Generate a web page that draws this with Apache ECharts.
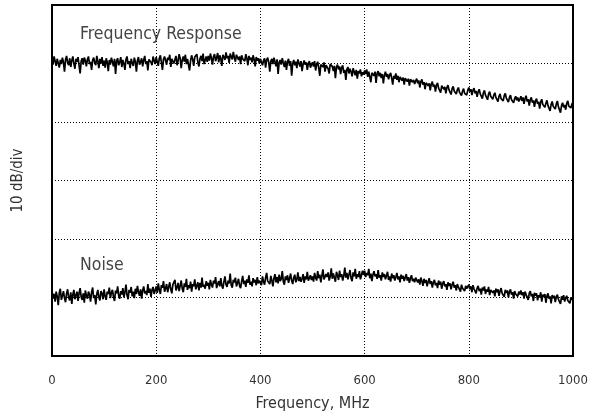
<!DOCTYPE html>
<html>
<head>
<meta charset="utf-8">
<script src="https://cdn.jsdelivr.net/npm/echarts@6/dist/echarts.min.js"></script>
<style>html,body{margin:0;padding:0;background:#fff}#c{width:592px;height:415px}</style>
</head>
<body>
<div id="c"></div>
<script>
// Sample grid step: 2 MHz (0..1000 MHz)
var stepMHz = 2;

var xTicks = [0, 200, 400, 600, 800, 1000];

// Frequency response trace (dB, 10 dB/div), 2 MHz steps
var freqResponse = [
 50.9,49.8,51.2,50.4,49.6,50.8,51.1,49.3,50.6,49.9,
 51.0,50.2,48.6,50.7,51.3,50.1,49.7,50.9,49.4,50.5,
 51.2,50.0,49.1,50.8,50.3,51.1,49.6,48.3,50.4,50.9,
 49.8,51.0,50.5,49.5,50.7,51.2,49.9,50.3,48.9,50.6,
 51.0,50.1,49.7,51.3,50.4,49.2,50.8,50.0,51.1,49.6,
 50.5,49.3,50.9,50.2,48.7,50.6,49.8,51.0,50.3,49.5,
 50.8,48.2,50.4,50.9,49.7,50.2,51.1,49.4,50.6,50.0,
 48.9,50.7,51.2,49.9,50.4,49.2,50.8,50.1,49.6,51.0,
 50.3,48.6,50.5,51.1,49.8,50.2,50.9,49.5,50.6,51.3,
 49.9,50.4,48.8,50.7,51.0,50.2,49.7,51.2,50.5,49.9,
 51.1,50.3,49.6,50.9,51.4,50.2,48.9,50.7,51.2,50.5,
 49.8,51.0,50.6,51.5,49.4,50.8,51.1,50.0,50.7,51.3,
 49.7,50.4,51.6,50.9,49.2,50.6,51.2,50.3,51.5,49.9,
 50.8,51.0,48.8,50.5,51.4,50.7,49.6,51.1,50.9,51.6,
 50.2,49.5,50.8,51.3,50.4,51.7,49.9,50.6,51.2,50.3,
 51.3,50.5,51.7,50.9,49.8,51.2,51.6,50.4,51.0,51.8,
 50.2,51.4,50.8,49.6,51.5,51.1,50.6,51.9,50.9,51.3,
 50.1,51.7,51.2,50.7,52.0,51.0,50.3,51.5,51.8,50.6,
 51.2,49.9,51.4,50.8,51.1,50.4,51.6,50.9,49.7,51.3,
 50.6,51.0,50.2,51.4,50.7,49.5,51.1,50.5,50.9,50.0,
 50.8,51.1,49.7,50.5,50.9,49.3,50.6,51.0,50.2,48.6,
 50.4,50.8,49.9,51.0,50.3,49.5,50.7,48.2,50.2,50.6,
 49.8,50.9,50.1,49.4,50.5,48.9,50.3,50.8,49.6,50.4,
 47.9,50.0,50.6,49.7,50.3,49.2,50.7,50.1,49.5,50.4,
 48.7,49.9,50.5,49.8,50.2,48.9,50.0,50.4,49.3,49.8,
 50.2,49.5,50.4,48.8,49.9,50.3,49.2,47.9,49.8,50.1,
 49.4,50.2,48.6,49.7,50.0,49.1,48.3,49.9,50.2,49.5,
 48.7,49.6,47.5,49.4,49.8,49.0,49.5,48.2,49.3,49.7,
 48.4,48.9,47.2,49.0,49.4,48.3,49.1,48.6,47.8,49.2,
 48.6,48.0,48.9,47.4,48.7,48.3,49.0,47.8,48.5,48.1,
 48.8,48.2,49.0,47.7,48.6,48.3,46.8,48.4,48.7,47.9,
 48.6,46.7,48.3,48.7,47.8,48.4,47.5,48.2,46.6,48.0,
 48.6,47.7,48.2,47.3,48.0,48.4,47.5,46.4,47.9,47.4,
 48.3,47.2,47.9,46.8,47.7,48.0,47.1,47.6,46.4,47.5,
 47.8,46.9,47.4,46.2,47.3,47.6,46.8,47.2,46.5,47.0,
 47.4,46.6,47.1,45.9,46.9,47.3,46.4,46.8,45.6,46.7,
 47.0,46.2,46.6,45.4,46.5,46.9,46.0,46.4,45.2,46.3,
 46.7,45.8,46.1,45.0,46.2,46.5,45.6,46.0,44.9,45.9,
 46.3,45.5,45.8,44.7,45.7,46.1,45.3,45.6,44.8,45.5,
 45.9,45.1,45.4,44.5,45.3,45.7,44.9,45.2,44.6,45.4,
 45.9,45.2,45.6,44.6,45.4,45.8,44.9,45.3,44.3,45.2,
 45.6,44.8,45.1,44.0,45.0,45.4,44.6,44.9,43.8,44.8,
 45.2,44.4,44.7,43.9,44.6,45.0,44.2,44.5,43.5,44.4,
 44.8,44.0,44.3,43.6,44.5,44.9,44.1,44.4,43.4,44.2,
 44.6,43.8,44.1,43.3,44.0,44.4,43.7,44.2,43.5,43.9,
 44.4,43.6,44.2,43.1,44.0,44.5,43.5,43.9,42.8,43.8,
 44.2,43.3,43.7,42.6,43.6,44.0,43.1,43.5,42.3,43.4,
 43.9,43.0,43.3,42.5,43.2,43.7,42.8,43.1,41.9,43.0,
 43.5,42.7,43.0,42.2,43.1,43.6,42.6,42.9,41.6,42.8,
 43.3,42.5,42.9,42.1,43.2,43.6,42.7,43.0,42.4,43.1,
 43.4
];

// Noise floor trace, 2 MHz steps
var noise = [
 11.2,9.8,10.6,9.3,11.0,10.2,8.7,10.8,11.5,9.6,
 10.3,11.1,9.9,9.2,10.7,11.4,10.0,9.5,10.9,8.9,
 10.5,11.3,9.7,10.4,11.0,9.4,10.8,11.6,10.1,9.6,
 10.7,9.1,11.2,10.3,9.8,11.0,10.5,9.3,10.9,11.7,
 9.9,10.4,8.8,10.6,11.3,10.0,9.5,11.1,10.7,9.7,
 11.4,10.2,9.6,11.0,10.6,11.7,9.9,10.8,11.3,10.1,
 9.4,11.2,10.7,11.9,10.3,9.8,11.1,10.5,11.6,10.0,
 10.9,12.2,10.4,9.7,11.3,10.8,11.8,10.2,11.0,9.9,
 11.5,10.6,12.0,10.9,10.3,11.4,9.8,11.2,11.9,10.7,
 11.1,10.4,12.3,10.8,11.5,10.1,11.3,11.8,10.6,11.2,
 11.9,10.8,12.4,11.3,10.6,12.1,11.7,12.8,11.0,11.6,
 12.3,10.9,11.8,12.6,11.4,10.7,12.2,11.9,13.0,11.2,
 11.7,12.5,11.1,12.0,12.9,11.5,10.9,12.4,11.8,13.2,
 11.3,12.1,11.6,12.7,11.0,12.3,11.9,13.1,11.4,12.0,
 12.6,11.2,12.5,11.7,13.4,11.8,12.2,11.5,12.8,12.0,
 12.5,11.4,13.0,12.2,11.7,12.9,12.4,13.5,11.6,12.3,
 12.8,11.9,13.3,12.0,11.5,12.7,13.6,12.2,11.8,12.9,
 12.4,14.1,12.1,11.7,13.0,12.6,13.4,11.9,12.5,13.2,
 12.0,11.6,12.8,13.7,12.3,12.9,11.8,13.1,12.5,13.8,
 12.2,12.7,11.9,13.3,12.6,13.0,12.1,13.5,12.4,12.9,
 13.2,12.1,13.6,12.7,12.2,13.4,14.2,12.8,13.1,12.3,
 13.7,12.9,11.9,13.3,14.0,12.6,13.5,12.4,13.9,12.8,
 13.2,14.5,12.7,12.2,13.6,13.0,13.8,12.5,13.3,14.1,
 12.9,12.3,13.4,13.9,12.6,13.1,14.3,12.8,13.5,12.7,
 13.2,14.0,12.5,13.6,13.1,14.4,12.9,13.3,13.8,13.0,
 13.6,12.7,14.2,13.4,12.9,14.5,13.3,13.9,12.6,13.7,
 14.8,13.1,12.8,14.0,13.5,14.3,12.9,13.6,15.0,13.2,
 14.1,13.4,12.7,14.4,13.8,13.0,14.6,13.5,14.0,12.9,
 13.7,15.1,13.4,14.2,13.1,13.9,14.7,13.3,12.8,14.3,
 13.6,14.9,13.2,14.0,13.5,14.5,13.1,13.8,14.6,13.9,
 14.6,13.5,14.2,13.8,14.9,13.3,14.1,12.8,13.9,14.5,
 13.6,14.0,13.2,14.7,13.4,13.8,12.9,14.3,13.5,14.0,
 13.1,13.7,14.4,13.0,13.6,12.7,14.1,13.3,13.8,12.9,
 13.5,14.2,13.1,13.6,12.6,13.9,13.2,13.7,12.8,13.4,
 14.0,12.9,13.5,12.5,13.3,13.8,12.8,13.2,12.6,13.4,
 13.5,12.6,13.1,12.2,13.4,12.8,12.0,13.2,12.5,13.0,
 11.9,12.7,13.3,12.3,12.8,11.7,12.6,13.0,12.1,12.5,
 11.6,12.9,12.2,12.7,11.5,12.4,12.8,11.9,12.3,11.3,
 12.6,12.0,12.4,11.4,12.2,12.7,11.7,12.1,11.2,12.3,
 11.8,12.0,11.0,12.2,11.6,11.9,11.1,12.0,11.5,11.8,
 12.2,11.4,11.9,10.9,12.1,11.5,11.8,10.7,11.6,12.0,
 11.1,11.5,10.5,11.7,11.2,11.9,10.6,11.4,11.0,11.8,
 10.4,11.3,11.6,10.8,11.2,10.2,11.5,10.9,11.4,10.3,
 11.1,11.6,10.7,11.0,10.1,11.3,10.8,11.2,10.0,11.0,
 11.4,10.5,10.9,9.8,11.1,10.6,10.9,10.2,11.0,10.5,
 11.2,10.4,10.9,9.8,11.0,10.5,10.8,9.6,10.7,11.1,
 10.2,10.6,9.4,10.8,10.3,10.7,9.5,10.4,10.0,10.9,
 9.3,10.5,10.1,10.6,9.1,10.3,10.7,9.8,10.2,9.0,
 10.4,9.9,10.3,9.2,10.1,10.5,9.7,10.0,8.9,10.2,
 9.6,10.4,9.3,9.9,10.3,9.5,9.8,9.0,10.0,9.6,
 9.9
];

var FONT = '"DejaVu Sans Condensed", "Liberation Sans Narrow", "Liberation Sans", sans-serif';
function pairs(ys) { return ys.map(function (v, i) { return [i * stepMHz, v]; }); }

var chart = echarts.init(document.getElementById('c'));
chart.setOption({
  animation: false,
  backgroundColor: '#fff',
  grid: { left: 52, right: 19, top: 5, bottom: 59, show: true, borderColor: '#000', borderWidth: 2,
          backgroundColor: 'transparent', containLabel: false, outerBoundsMode: 'none' },
  xAxis: {
    type: 'value', min: 0, max: 1000, interval: 200,
    name: 'Frequency, MHz', nameLocation: 'middle', nameGap: 40,
    nameTextStyle: { fontFamily: FONT, fontSize: 16, color: '#333' },
    axisLine: { show: false }, axisTick: { show: false },
    axisLabel: { fontFamily: FONT, fontSize: 13, color: '#333', margin: 18,
      formatter: function (v) { return xTicks.indexOf(v) >= 0 ? String(v) : ''; } },
    splitLine: { show: true, lineStyle: { color: '#000', type: [1, 2], width: 1 } }
  },
  yAxis: {
    type: 'value', min: 0, max: 60, interval: 10,
    name: '10 dB/div', nameLocation: 'middle', nameGap: 26, nameRotate: 90,
    nameTextStyle: { fontFamily: FONT, fontSize: 15, color: '#333' },
    axisLine: { show: false }, axisTick: { show: false }, axisLabel: { show: false },
    splitLine: { show: true, lineStyle: { color: '#000', type: [1, 2], width: 1 } }
  },
  graphic: [
    { type: 'text', left: 80, top: 25, style: { text: 'Frequency Response', fontFamily: FONT, fontSize: 17.5, fill: '#444' } },
    { type: 'text', left: 80, top: 256, style: { text: 'Noise', fontFamily: FONT, fontSize: 17.5, fill: '#444' } }
  ],
  series: [
    { type: 'line', data: pairs(freqResponse), showSymbol: false, lineStyle: { color: '#000', width: 1.7 }, z: 3 },
    { type: 'line', data: pairs(noise), showSymbol: false, lineStyle: { color: '#000', width: 1.7 }, z: 3 }
  ]
});
</script>
</body>
</html>
